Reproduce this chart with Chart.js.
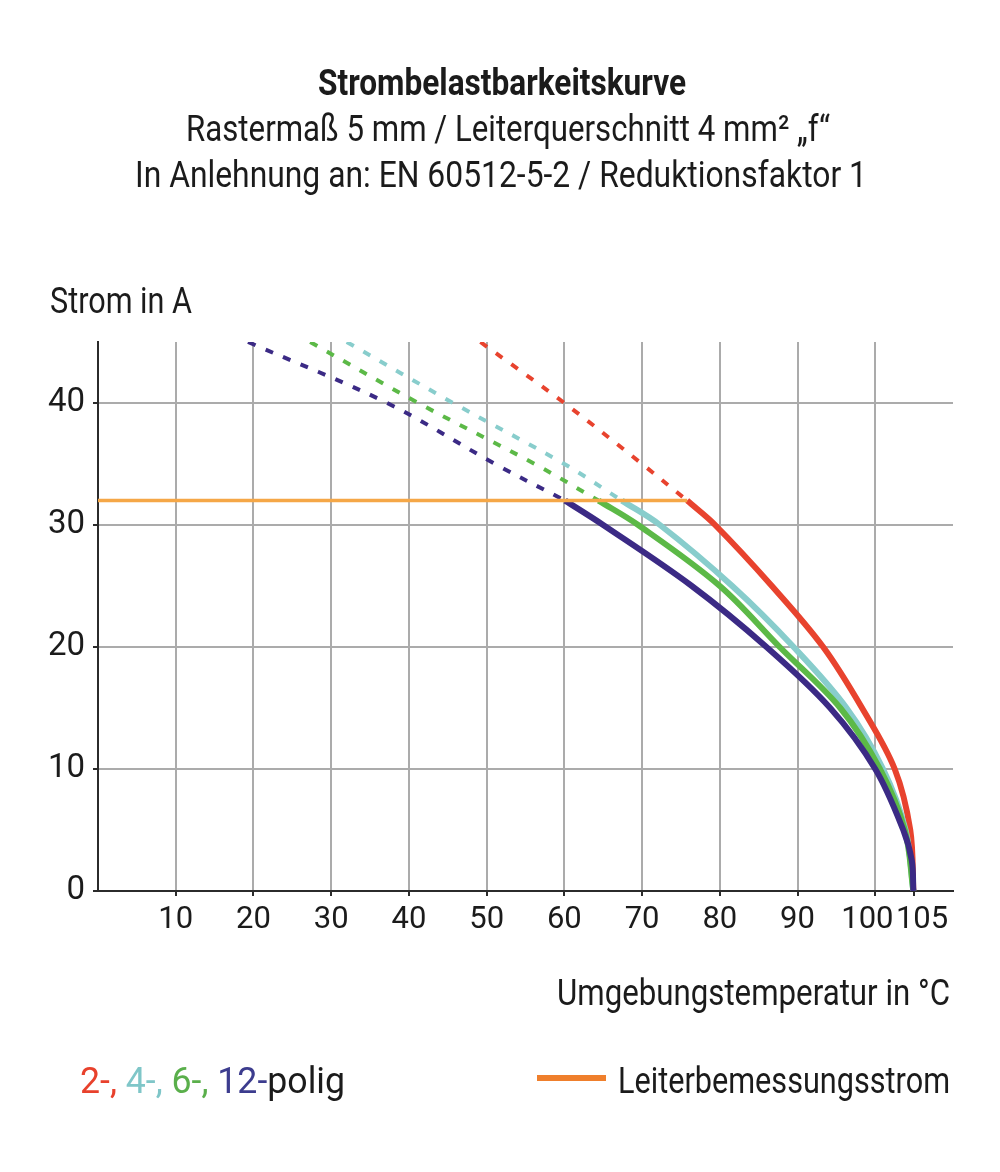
<!DOCTYPE html>
<html>
<head>
<meta charset="utf-8">
<script src="https://cdn.jsdelivr.net/npm/chart.js@4.4.1/dist/chart.umd.min.js"></script>
<style>
  body { margin: 0; background: #fff; }
  #wrap { position: relative; width: 1000px; height: 1172px; overflow: hidden; }
  #wrap canvas { position: absolute; left: 0; top: 0; }
  .txt {
    position: absolute; white-space: nowrap; line-height: 1;
    font-family: 'Liberation Sans Narrow', Roboto, sans-serif;
    font-size: 37px; color: #1b1b1b; transform-origin: 0 50%;
  }
  #legLine { position: absolute; left: 537px; top: 1075px; width: 69px; height: 6px; background: #ef7f2c; }
</style>
</head>
<body>
<div id="wrap">
  <canvas id="chart" width="1000" height="1172"></canvas>

  <div class="txt" data-w="368" style="left:318px; top:64px; font-weight:bold;">Strombelastbarkeitskurve</div>
  <div class="txt" data-w="644" style="left:186px; top:110px;">Rastermaß 5 mm / Leiterquerschnitt 4 mm² „f“</div>
  <div class="txt" data-w="732" style="left:135px; top:156px;">In Anlehnung an: EN 60512-5-2 / Reduktionsfaktor 1</div>
  <div class="txt" data-w="142" style="left:50px; top:282px;">Strom in A</div>
  <div class="txt" data-w="393" style="left:557px; top:974px;">Umgebungstemperatur in °C</div>
  <div class="txt" data-w="265" style="left:80px; top:1062px;"><span style="color:#e8412c">2-,</span> <span style="color:#7fc6c8">4-,</span> <span style="color:#5aaf4b">6-,</span> <span style="color:#3c3c8e">12-</span>polig</div>
  <div id="legLine"></div>
  <div class="txt" data-w="332" style="left:618px; top:1062px;">Leiterbemessungsstrom</div>
</div>

<script>
// ----------------------------
// Daten
// ----------------------------

// Leiterbemessungsstrom
const tRated = [0, 75.8];
const iRated = [32, 32];

// 2-polig
const t2Dash = [49.2, 60, 70, 75.8];
const i2Dash = [45, 40, 35, 32];
const t2 = [75.8, 79.4, 86.7, 93.3, 98.3, 102.5, 104.5, 104.9];
const i2 = [32, 30, 25, 20, 15, 10, 5, 0];

// 4-polig
const t4Dash = [32, 45.7, 60, 67.4];
const i4Dash = [45, 40, 35, 32];
const t4 = [67.4, 72.3, 81.6, 89.5, 96.3, 101, 103.9, 104.9];
const i4 = [32, 30, 25, 20, 15, 10, 5, 0];

// 6-polig
const t6Dash = [27.3, 41.2, 56.2, 64.4];
const i6Dash = [45, 40, 35, 32];
const t6 = [64.4, 69.5, 80, 87.7, 95.5, 100.6, 103.8, 104.9];
const i6 = [32, 30, 25, 20, 15, 10, 5, 0];

// 12-polig
const t12Dash = [19.3, 37.2, 51.1, 60.1];
const i12Dash = [45, 40, 35, 32];
const t12 = [60.1, 65, 76.4, 86, 94.2, 100, 103.6, 104.7, 104.9];
const i12 = [32, 30, 25, 20, 15, 10, 5, 2.5, 0];

// Achsen
const xLabels = [10, 20, 30, 40, 50, 60, 70, 80, 90, 100, 105];
const yLabels = [0, 10, 20, 30, 40];

const colRed = "#e8432e";
const colCyan = "#88cdcc";
const colGreen = "#5cb947";
const colPurple = "#3b2a85";
const colOrange = "#f5a747";
const colGrid = "#ababab";


// ----------------------------
// Hilfsfunktionen
// ----------------------------

function pts(t, i) {
  return t.map((v, k) => ({ x: v, y: i[k] }));
}

function solid(t, i, color) {
  return {
    data: pts(t, i),
    borderColor: color,
    borderWidth: 6,
    pointRadius: 0,
    tension: 0.35,
    borderCapStyle: "butt"
  };
}

function dashed(t, i, color) {
  return {
    data: pts(t, i),
    borderColor: color,
    borderWidth: 4,
    borderDash: [8, 11],
    pointRadius: 0,
    tension: 0.35,
    borderCapStyle: "butt"
  };
}

const tickFont = { family: "'Liberation Sans Narrow', Roboto, sans-serif", size: 31 };


// ----------------------------
// Chart
// ----------------------------

new Chart(document.getElementById("chart"), {
  type: "line",
  data: {
    datasets: [
      { data: pts(tRated, iRated), borderColor: colOrange, borderWidth: 3.5, pointRadius: 0 },
      solid(t12, i12, colPurple),
      solid(t6, i6, colGreen),
      solid(t4, i4, colCyan),
      solid(t2, i2, colRed),
      dashed(t12Dash, i12Dash, colPurple),
      dashed(t6Dash, i6Dash, colGreen),
      dashed(t4Dash, i4Dash, colCyan),
      dashed(t2Dash, i2Dash, colRed)
    ]
  },
  options: {
    responsive: false,
    animation: false,
    devicePixelRatio: 1,
    layout: { padding: { left: 0, top: 342, right: 47, bottom: 0 } },
    plugins: { legend: { display: false }, tooltip: { enabled: false } },
    scales: {
      x: {
        type: "linear",
        min: 0,
        max: 110,
        afterBuildTicks: function (s) {
          const arr = [];
          for (let v = 0; v <= 110; v += 2) arr.push({ value: v });
          arr.push({ value: 105 });
          arr.sort((a, b) => a.value - b.value);
          s.ticks = arr;
        },
        afterFit: function (s) { s.height = 1172 - 891; },
        grid: {
          color: c => (c.tick && c.tick.value % 10 === 0 && c.tick.value > 0) ? colGrid : "rgba(0,0,0,0)",
          lineWidth: 2,
          tickColor: "#2b2b2b",
          tickLength: 5
        },
        border: { color: "#2b2b2b", width: 2 },
        ticks: {
          autoSkip: false,
          maxRotation: 0,
          padding: 6,
          color: "#1b1b1b",
          font: tickFont,
          callback: function (v) {
            if (!xLabels.includes(v)) return null;
            if (v === 100) return "100\u2002";
            if (v === 105) return "\u2002105";
            return String(v);
          }
        }
      },
      y: {
        type: "linear",
        min: 0,
        max: 45,
        afterBuildTicks: function (s) {
          const arr = [];
          for (let v = 0; v <= 45; v += 1) arr.push({ value: v });
          s.ticks = arr;
        },
        afterFit: function (s) { s.width = 98; },
        grid: {
          color: c => (c.tick && c.tick.value % 5 === 0 && c.tick.value > 0) ? colGrid : "rgba(0,0,0,0)",
          lineWidth: 2,
          tickColor: "#2b2b2b",
          tickLength: 5
        },
        border: { color: "#2b2b2b", width: 2 },
        ticks: {
          autoSkip: false,
          padding: 8,
          color: "#1b1b1b",
          font: { family: tickFont.family, size: 33 },
          callback: v => yLabels.includes(v) ? String(v) : null
        }
      }
    }
  }
});


// ----------------------------
// Texte auf Breite bringen
// ----------------------------

document.querySelectorAll(".txt").forEach(function (el) {
  const w = +el.dataset.w;
  const natural = el.getBoundingClientRect().width;
  el.style.transform = "scaleX(" + (w / natural) + ")";
});
</script>
</body>
</html>
